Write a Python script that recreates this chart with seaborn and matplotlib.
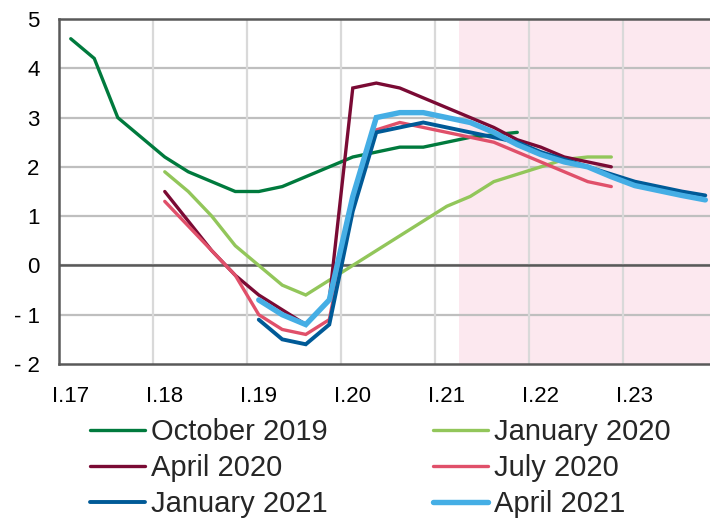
import numpy as np
import pandas as pd
import matplotlib
matplotlib.use("Agg")
import matplotlib.pyplot as plt
import seaborn as sns

sns.set_theme(style="white")
plt.rcParams["font.family"] = ["Liberation Sans", "DejaVu Sans"]

# Forecast vintages: quarterly values, first value at the quarter index given in *_start
# (quarter 0 = I.17)
oct19_start = 0
oct19 = [4.6, 4.2, 3.0, 2.6, 2.2, 1.9, 1.7, 1.5, 1.5, 1.6, 1.8, 2.0, 2.2, 2.3,
         2.4, 2.4, 2.5, 2.6, 2.65, 2.7]
jan20_start = 4
jan20 = [1.9, 1.5, 1.0, 0.4, 0.0, -0.4, -0.6, -0.3, 0.0, 0.3, 0.6, 0.9, 1.2,
         1.4, 1.7, 1.85, 2.0, 2.15, 2.2, 2.2]
apr20_start = 4
apr20 = [1.5, 0.9, 0.3, -0.2, -0.6, -0.9, -1.2, -0.7, 3.6, 3.7, 3.6, 3.4, 3.2,
         3.0, 2.8, 2.55, 2.4, 2.2, 2.1, 2.0]
jul20_start = 4
jul20 = [1.3, 0.8, 0.3, -0.2, -1.0, -1.3, -1.4, -1.1, 1.3, 2.75, 2.9, 2.8, 2.7,
         2.6, 2.5, 2.3, 2.1, 1.9, 1.7, 1.6]
jan21_start = 8
jan21 = [-1.1, -1.5, -1.6, -1.2, 1.1, 2.7, 2.8, 2.9, 2.8, 2.7, 2.6, 2.5, 2.3,
         2.15, 2.0, 1.85, 1.7, 1.6, 1.5, 1.42]
apr21_start = 8
apr21 = [-0.7, -1.0, -1.2, -0.7, 1.4, 3.0, 3.1, 3.1, 3.0, 2.9, 2.7, 2.45, 2.25,
         2.1, 2.0, 1.8, 1.62, 1.52, 1.42, 1.33]

series_names = ["October 2019", "January 2020", "April 2020", "July 2020",
                "January 2021", "April 2021"]
series_values = [oct19, jan20, apr20, jul20, jan21, apr21]
series_starts = [oct19_start, jan20_start, apr20_start, jul20_start,
                 jan21_start, apr21_start]
colors = ["#007A3D", "#92C65A", "#7A0A34", "#E0506A", "#005A97", "#45AEE5"]
widths = [2.4, 2.4, 2.4, 2.4, 2.8, 3.9]

year_labels = ["I.17", "I.18", "I.19", "I.20", "I.21", "I.22", "I.23"]
forecast_start = 17   # II.21
x_end = 27.7

frames = []
for name, vals, start in zip(series_names, series_values, series_starts):
    q = start + np.arange(len(vals)) + 0.5   # values sit in the middle of their quarter
    frames.append(pd.DataFrame({"quarter": q, "value": vals, "vintage": name}))
df = pd.concat(frames, ignore_index=True)

fig = plt.figure(figsize=(7.10, 5.18), dpi=100)
ax = fig.add_axes([59 / 710, 1 - 364 / 518, 1 - 59 / 710, (364 - 19) / 518])

ax.axvspan(forecast_start, x_end + 1, color="#FCE8EF", lw=0, zorder=0)

for name, col, lw in zip(series_names, colors, widths):
    sns.lineplot(data=df[df["vintage"] == name], x="quarter", y="value",
                 color=col, lw=lw, ax=ax, label=name, zorder=3,
                 solid_capstyle="round", solid_joinstyle="miter")

ax.set_xlim(0, x_end)
ax.set_ylim(-2, 5)

# horizontal grid and zero line
for y in range(-1, 5):
    ax.axhline(y, color="#BFBFBF", lw=1.6, zorder=1)
ax.axhline(0, color="#595959", lw=1.8, zorder=2)
# yearly vertical grid
for k in range(1, 7):
    ax.axvline(4 * k, color="#D9D9D9", lw=1.6, zorder=1)

ax.set_xticks([4 * k + 0.5 for k in range(len(year_labels))])
ax.set_xticklabels(year_labels)
ax.set_yticks(range(-2, 6))
ax.set_yticklabels([str(v) if v >= 0 else "- " + str(-v) for v in range(-2, 6)])
ax.tick_params(axis="x", length=0, pad=16, labelsize=16, labelcolor="black")
ax.tick_params(axis="y", direction="in", length=6, width=1.6, color="#595959",
               pad=14, labelsize=16, labelcolor="black")
ax.set_xlabel("")
ax.set_ylabel("")

for side in ["left", "top", "bottom"]:
    ax.spines[side].set_visible(True)
    ax.spines[side].set_color("#595959")
    ax.spines[side].set_linewidth(1.8)
ax.spines["right"].set_visible(False)

handles, labels = ax.get_legend_handles_labels()
ax.get_legend().remove()
order = [0, 2, 4, 1, 3, 5]
leg = fig.legend([handles[i] for i in order], [labels[i] for i in order],
                 ncol=2, loc="upper left", bbox_to_anchor=(90 / 710, 1 - 418 / 518),
                 frameon=False, fontsize=21, handlelength=1.9, handletextpad=0.2,
                 columnspacing=3.6, labelspacing=0.28, borderpad=0, borderaxespad=0)

fig.savefig("out.png", dpi=100)
